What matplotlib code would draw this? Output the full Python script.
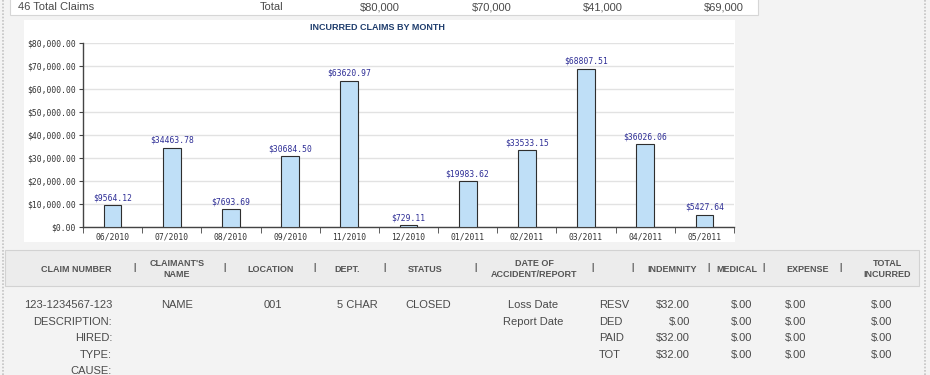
import matplotlib.pyplot as plt
from matplotlib.patches import Rectangle
import numpy as np

# chart data
months = ["06/2010", "07/2010", "08/2010", "09/2010", "11/2010", "12/2010",
          "01/2011", "02/2011", "03/2011", "04/2011", "05/2011"]
incurred = [9564.12, 34463.78, 7693.69, 30684.50, 63620.97, 729.11,
            19983.62, 33533.15, 68807.51, 36026.06, 5427.64]

# summary row above the chart
summary_label = "46 Total Claims"
summary_total = "Total"
summary_values = ["$80,000", "$70,000", "$41,000", "$69,000"]

# claim table below the chart
header_cols = ["CLAIM NUMBER", "CLAIMANT'S\nNAME", "LOCATION", "DEPT.", "STATUS",
               "DATE OF\nACCIDENT/REPORT", "", "INDEMNITY", "MEDICAL", "EXPENSE",
               "TOTAL\nINCURRED"]
claim_fields = ["123-1234567-123", "DESCRIPTION:", "HIRED:", "TYPE:", "CAUSE:"]
claim_name = "NAME"
claim_location = "001"
claim_dept = "5 CHAR"
claim_status = "CLOSED"
date_labels = ["Loss Date", "Report Date"]
amount_rows = ["RESV", "DED", "PAID", "TOT"]
indemnity = ["$32.00", "$.00", "$32.00", "$32.00"]
medical = ["$.00", "$.00", "$.00", "$.00"]
expense = ["$.00", "$.00", "$.00", "$.00"]
total_incurred = ["$.00", "$.00", "$.00", "$.00"]

W, H = 930, 375
fig = plt.figure(figsize=(W / 100, H / 100), dpi=100)
fig.patch.set_facecolor("#f3f3f3")

# page layer in pixel coordinates
page = fig.add_axes([0, 0, 1, 1])
page.set_xlim(0, W)
page.set_ylim(H, 0)
page.axis("off")

body = dict(family="Liberation Sans", fontsize=8, color="#4a4a4a")
head = dict(family="Liberation Sans", fontsize=6.5, color="#555555", weight="bold")

# borders of the page
page.plot([3, 3], [0, H], color="#c4c4c4", lw=1.2, ls=(0, (1, 1)))
page.plot([925, 925], [0, H], color="#c4c4c4", lw=1.2, ls=(0, (1, 1)))

# summary row
page.add_patch(Rectangle((10, -5), 748, 20, facecolor="white", edgecolor="#d6d6d6", lw=0.8))
page.text(18, 7, summary_label, va="center", ha="left", **body)
page.text(272, 7, summary_total, va="center", ha="center", **body)
for x, v in zip([380, 492, 603, 724], summary_values):
    page.text(x, 7, v, va="center", ha="center", **body)

# white chart panel
page.add_patch(Rectangle((24, 20), 711, 222, facecolor="white", edgecolor="none"))
page.text(377, 27, "INCURRED CLAIMS BY MONTH", ha="center", va="center",
          family="Liberation Sans", fontsize=6.5, weight="bold", color="#1f3d6d")

# table header band
page.add_patch(Rectangle((5, 250), 914, 36, facecolor="#ececec", edgecolor="#d2d2d2", lw=0.8))
head_x = [76, 177, 271, 347, 425, 534, 613, 672, 737, 808, 887]
for x, t in zip(head_x, header_cols):
    page.text(x, 269, t, ha="center", va="center", linespacing=1.2, **head)
for x in [135, 225, 315, 385, 476, 593, 633, 709, 764, 841]:
    page.text(x, 268, "|", ha="center", va="center", **head)

# table body
row_y = [305, 322, 338, 355, 371]
for y, t in zip(row_y, claim_fields):
    page.text(112, y, t, ha="right", va="center", **body)
page.text(177, row_y[0], claim_name, ha="center", va="center", **body)
page.text(273, row_y[0], claim_location, ha="center", va="center", **body)
page.text(357, row_y[0], claim_dept, ha="center", va="center", **body)
page.text(428, row_y[0], claim_status, ha="center", va="center", **body)
for y, t in zip(row_y, date_labels):
    page.text(533, y, t, ha="center", va="center", **body)
for i, y in enumerate(row_y[:4]):
    page.text(599, y, amount_rows[i], ha="left", va="center", **body)
    page.text(690, y, indemnity[i], ha="right", va="center", **body)
    page.text(752, y, medical[i], ha="right", va="center", **body)
    page.text(806, y, expense[i], ha="right", va="center", **body)
    page.text(892, y, total_incurred[i], ha="right", va="center", **body)

# bar chart
ax = fig.add_axes([83 / W, (H - 227) / H, 651 / W, 184 / H])
ax.set_facecolor("white")
x = np.arange(len(months))
bars = ax.bar(x, incurred, width=0.3, color="#bfdff7", edgecolor="#2e2e2e", linewidth=0.8, zorder=3)
ax.set_xlim(-0.5, len(months) - 0.5)
ax.set_ylim(0, 80000)
ax.set_yticks(np.arange(0, 80001, 10000))
ax.set_yticklabels([f"${v:,.2f}" for v in np.arange(0, 80001, 10000)],
                   family="DejaVu Sans Mono", fontsize=5.8, color="#333333")
ax.set_xticks(x)
ax.set_xticklabels(months, family="DejaVu Sans Mono", fontsize=5.8, color="#333333")
ax.set_xticks(np.arange(-0.5, len(months), 1), minor=True)
ax.tick_params(axis="x", which="major", length=0, pad=4)
ax.tick_params(axis="x", which="minor", length=4, color="#444444", direction="out")
ax.tick_params(axis="y", length=3, color="#444444", pad=2)
ax.grid(axis="y", color="#e2e2e2", lw=1, zorder=0)
for s in ["top", "right"]:
    ax.spines[s].set_visible(False)
for s in ["left", "bottom"]:
    ax.spines[s].set_color("#444444")
    ax.spines[s].set_linewidth(1)
for b, v in zip(bars, incurred):
    ax.annotate(f"${v:.2f}", (b.get_x() + b.get_width() / 2, v), xytext=(0, 2),
                textcoords="offset points", ha="center", va="bottom",
                family="DejaVu Sans Mono", fontsize=5.8, color="#2e2e96")

fig.savefig("out.png", dpi=100, facecolor=fig.get_facecolor())
